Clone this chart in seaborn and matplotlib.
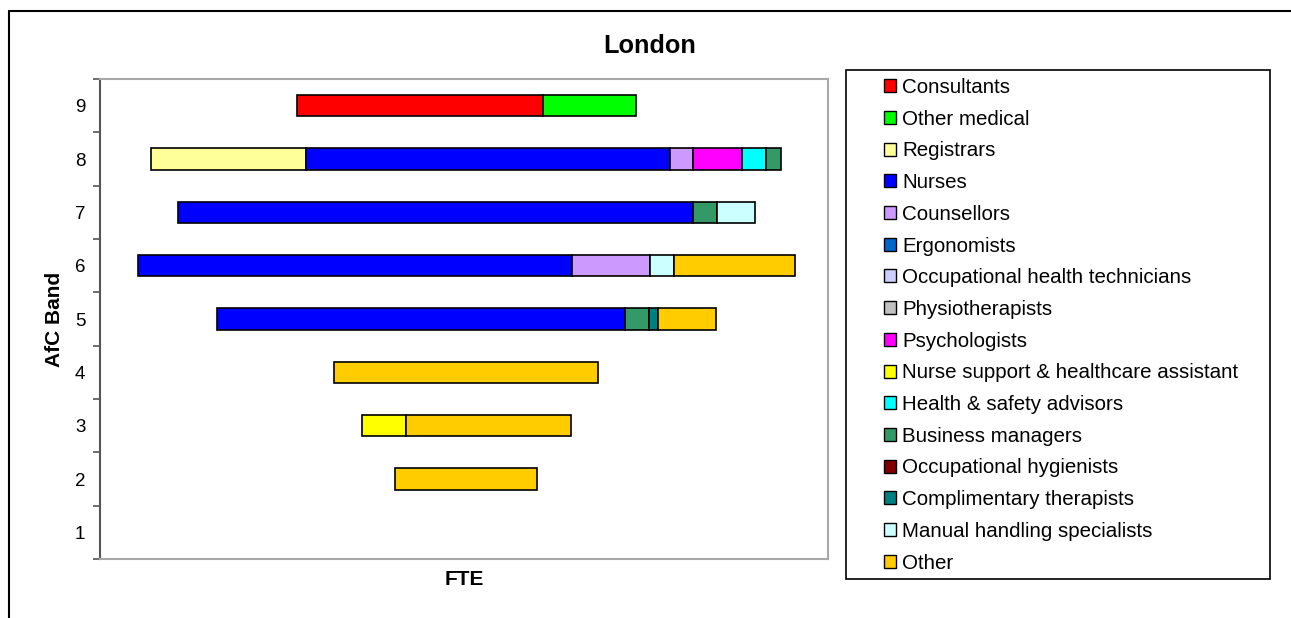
import matplotlib
matplotlib.use("Agg")
import matplotlib.pyplot as plt
from matplotlib.patches import Patch, Rectangle
from matplotlib.lines import Line2D
import numpy as np
import pandas as pd
import seaborn as sns

# AfC bands (bottom to top)
bands = [1, 2, 3, 4, 5, 6, 7, 8, 9]

# FTE per staff group, indexed by band 1..9
consultants       = [0, 0, 0, 0, 0, 0, 0, 0, 24.6]
other_medical     = [0, 0, 0, 0, 0, 0, 0, 0, 9.3]
registrars        = [0, 0, 0, 0, 0, 0, 0, 15.5, 0]
nurses            = [0, 0, 0, 0, 40.8, 43.4, 51.5, 36.4, 0]
counsellors       = [0, 0, 0, 0, 0, 7.8, 0, 2.3, 0]
ergonomists       = [0, 0, 0, 0, 0, 0, 0, 0, 0]
oh_technicians    = [0, 0, 0, 0, 0, 0, 0, 0, 0]
physiotherapists  = [0, 0, 0, 0, 0, 0, 0, 0, 0]
psychologists     = [0, 0, 0, 0, 0, 0, 0, 4.9, 0]
nurse_support     = [0, 0, 4.4, 0, 0, 0, 0, 0, 0]
hs_advisors       = [0, 0, 0, 0, 0, 0, 0, 2.4, 0]
business_managers = [0, 0, 0, 0, 2.4, 0, 2.4, 1.5, 0]
occ_hygienists    = [0, 0, 0, 0, 0, 0, 0, 0, 0]
comp_therapists   = [0, 0, 0, 0, 0.9, 0, 0, 0, 0]
manual_handling   = [0, 0, 0, 0, 0, 2.4, 3.8, 0, 0]
other             = [0, 14.2, 16.5, 26.4, 5.8, 12.1, 0, 0, 0]

groups = ["Consultants", "Other medical", "Registrars", "Nurses", "Counsellors",
          "Ergonomists", "Occupational health technicians", "Physiotherapists",
          "Psychologists", "Nurse support & healthcare assistant",
          "Health & safety advisors", "Business managers",
          "Occupational hygienists", "Complimentary therapists",
          "Manual handling specialists", "Other"]
series = [consultants, other_medical, registrars, nurses, counsellors,
          ergonomists, oh_technicians, physiotherapists, psychologists,
          nurse_support, hs_advisors, business_managers, occ_hygienists,
          comp_therapists, manual_handling, other]
colors = ["#FF0000", "#00FF00", "#FFFF99", "#0000FF", "#CC99FF", "#0066CC",
          "#CCCCFF", "#C0C0C0", "#FF00FF", "#FFFF00", "#00FFFF", "#339966",
          "#800000", "#008080", "#CCFFFF", "#FFCC00"]

df = pd.DataFrame(np.array(series).T, index=bands, columns=groups)

sns.set_theme(style="white")
plt.rcParams["font.family"] = ["Liberation Sans", "DejaVu Sans"]
plt.rcParams["text.color"] = "black"
plt.rcParams["axes.labelcolor"] = "black"
plt.rcParams["ytick.labelcolor"] = "black"
palette = sns.color_palette(colors)

W, H = 1291, 618
fig = plt.figure(figsize=(W / 100, H / 100), dpi=100)
ax = fig.add_axes([100 / W, 1 - 559 / H, 728 / W, 480 / H])

# centred stacked bars: each band starts at -total/2
totals = df.sum(axis=1)
left = -totals / 2.0
for g, c in zip(groups, palette):
    vals = df[g]
    mask = vals > 0
    if mask.any():
        ax.barh(np.array(bands)[mask.values], vals[mask], left=left[mask],
                height=0.4, color=c, edgecolor="black", linewidth=1.2)
    left = left + vals

ax.set_xlim(-36.6, 36.2)
ax.set_ylim(0.5, 9.5)
ax.set_xticks([])

# tick marks on band boundaries, labels on band centres
ax.set_yticks(np.arange(0.5, 10, 1.0))
ax.set_yticklabels([])
ax.set_yticks(bands, minor=True)
ax.set_yticklabels([str(b) for b in bands], minor=True, fontsize=13.5,
                   color="black")
ax.tick_params(axis="y", which="major", length=5, width=1.2, color="#555555",
               left=True, direction="out")
ax.tick_params(axis="y", which="minor", length=0, pad=10.5)

for s in ["top", "right", "bottom"]:
    ax.spines[s].set_color("#A8A8A8")
    ax.spines[s].set_linewidth(1.5)
ax.spines["left"].set_color("#555555")
ax.spines["left"].set_linewidth(1.5)

ax.set_ylabel("AfC Band", fontsize=15, fontweight="bold", labelpad=8,
              color="black")
ax.set_xlabel("FTE", fontsize=15, fontweight="bold", labelpad=8,
              color="black")

fig.text(650 / W, 1 - 46 / H, "London", ha="center", va="center",
         fontsize=18.2, fontweight="bold", color="black")

# outer frame (top and left edges)
fig.add_artist(Line2D([8.5 / W, 1.0], [1 - 10.5 / H, 1 - 10.5 / H],
                      transform=fig.transFigure, color="black", lw=1.5))
fig.add_artist(Line2D([8.5 / W, 8.5 / W], [0.0, 1 - 10.5 / H],
                      transform=fig.transFigure, color="black", lw=1.5))

# legend box
fig.add_artist(Rectangle((846 / W, 1 - 579 / H), 424 / W, 509 / H,
                         transform=fig.transFigure, fill=False,
                         edgecolor="black", lw=1.2))
handles = [Patch(facecolor=c, edgecolor="black", linewidth=1.0) for c in palette]
fig.legend(handles, groups, loc="upper left",
           bbox_to_anchor=(884 / W, 1 - 78 / H), frameon=False,
           fontsize=14.75, handlelength=0.6, handleheight=0.6,
           handletextpad=0.3, labelspacing=0.62, borderpad=0,
           borderaxespad=0, labelcolor="black")

fig.savefig("out.png", dpi=100)
